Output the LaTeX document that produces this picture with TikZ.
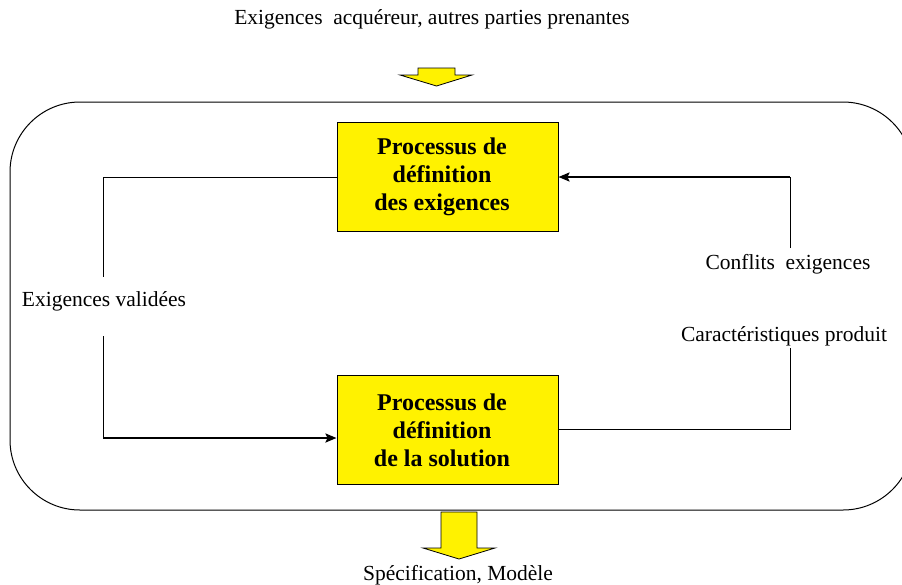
\documentclass[tikz,border=0pt]{standalone}
\usepackage{fontspec}
\setmainfont{Liberation Serif}
\usetikzlibrary{arrows.meta}
\tikzset{
  procbox/.style={draw=black, line width=1pt, fill=yellow, minimum width=221pt, minimum height=109pt, inner sep=0pt, font=\fontsize{24}{28}\selectfont\bfseries, align=center},
  lbl/.style={font=\fontsize{21.5}{24}\selectfont, inner sep=0pt},
  thin/.style={draw=black, line width=0.9pt},
  thick/.style={draw=black, line width=2pt},
  tip/.style={-{Stealth[length=11pt,width=9pt,inset=2pt]}},
  bigarrow/.style={draw=black, line width=0.8pt, fill=yellow},
}
\begin{document}
\begin{tikzpicture}[x=1pt,y=-1pt]
\useasboundingbox (0,0) rectangle (902,584);
\begin{scope}
\clip (0,0) rectangle (902,584);
\draw[line width=1pt, rounded corners=70pt] (10,102) rectangle (913,510);
\end{scope}
% block arrows
\draw[bigarrow] (418,68) -- (455,68) -- (455,75) -- (472,75) -- (436.5,86) -- (400,75) -- (418,75) -- cycle;
\draw[bigarrow] (441,512) -- (477,512) -- (477,548) -- (495,548) -- (459,559) -- (423,548) -- (441,548) -- cycle;
% labels
\node[lbl] (top) at (432,19) {Exigences\ \ acquéreur, autres parties prenantes};
\node[lbl] (bot) at (458,575) {Spécification, Modèle};
% boxes
\node[procbox] (req) at (447.5,176.5) {};
\node[procbox] (sol) at (447.5,429.5) {};
\node[procbox, draw=none, fill=none] (reqt) at (442,177) {Processus de\\définition\\des exigences};
\node[procbox, draw=none, fill=none] (solt) at (442,430) {Processus de\\définition\\de la solution};
% side labels
\node[lbl] (val) at (104,301) {Exigences validées};
\node[lbl] (conf) at (788,264) {Conflits\ \ exigences};
\node[lbl] (car) at (784,336) {Caractéristiques produit};
% coordinates
\coordinate (l1) at (103,177);
\coordinate (l2) at (103,277);
\coordinate (l3) at (103,336);
\coordinate (l4) at (103,438);
\coordinate (r1) at (790,429);
\coordinate (r2) at (790,348);
\coordinate (r3) at (790,248);
\coordinate (r4) at (790,177);
% connectors
\draw[thin] (req.west |- l1) -- (l1) -- (l2);
\draw[thin] (l3) -- (l4);
\draw[thick, tip] (l4) -- (sol.west |- l4);
\draw[thin] (sol.east |- r1) -- (r1) -- (r2);
\draw[thin] (r3) -- (r4);
\draw[thick, tip] (r4) -- (req.east |- r4);
\end{tikzpicture}
\end{document}
